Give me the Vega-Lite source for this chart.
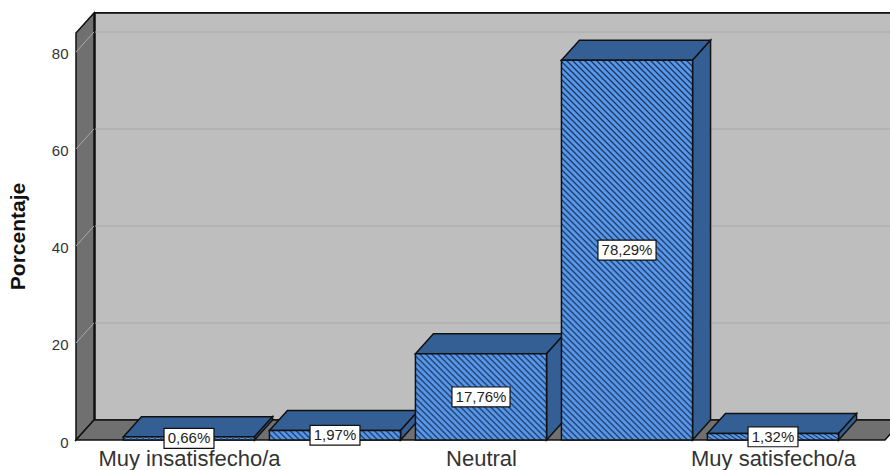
{"$schema":"https://vega.github.io/schema/vega-lite/v6.json","width":815,"height":428,"autosize":"none","padding":{"left":75,"top":12,"right":0,"bottom":30},"background":"white","config":{"view":{"stroke":null}},
"datasets":{"bars":[{"cat":1,"name":"Muy insatisfecho/a","value":0.66},{"cat":2,"name":"Insatisfecho/a","value":1.97},{"cat":3,"name":"Neutral","value":17.76},{"cat":4,"name":"Satisfecho/a","value":78.29},{"cat":5,"name":"Muy satisfecho/a","value":1.32}],"edges":[{"edge":0},{"edge":1}],"ticks":[{"v":20},{"v":40},{"v":60},{"v":80}]},
"data":{"name":"bars"},
"layer":[
{"mark":{"type":"rect","fill":"#bebebe","stroke":"#111","strokeWidth":1.5},"encoding":{"x":{"datum":0.3563,"type":"quantitative","scale":{"domain":[0.2192,5.8014],"zero":false,"nice":false},"axis":{"values":[1,3,5],"labelExpr":"{1:'Muy insatisfecho/a',3:'Neutral',5:'Muy satisfecho/a'}[datum.value]","title":null,"domain":false,"ticks":false,"grid":false,"labelFont":"Liberation Sans","labelFontSize":22,"labelColor":"#333","labelPadding":8,"labelLimit":400,"labelOverlap":false,"labelFlush":false}},"x2":{"datum":5.95},"y":{"datum":4.124,"type":"quantitative","scale":{"domain":[0,88.247],"zero":false,"nice":false},"axis":{"values":[0,20,40,60,80],"title":"Porcentaje","titleFont":"Liberation Sans","titleFontSize":21,"titleFontWeight":"bold","titleColor":"#111","titleX":-47,"titleY":224,"domain":false,"ticks":false,"grid":false,"labelFont":"Liberation Sans","labelFontSize":15,"labelColor":"#333","labelPadding":7,"labelOffset":2}},"y2":{"datum":88.04}}},
{"data":{"name":"edges"},"transform":[{"calculate":"0.226+0.1233*datum.edge","as":"xp"},{"calculate":"4.124*datum.edge","as":"y0"},{"calculate":"83.92+4.124*datum.edge","as":"y1"}],"mark":{"type":"area","orient":"vertical","fill":"#707070","fillOpacity":1,"stroke":"#111","strokeWidth":1.5},"encoding":{"x":{"field":"xp","type":"quantitative"},"y":{"field":"y1","type":"quantitative"},"y2":{"field":"y0"}}},
{"data":{"name":"edges"},"transform":[{"calculate":"0.226+0.1233*datum.edge","as":"x0"},{"calculate":"5.767+0.1233*datum.edge","as":"x1"},{"calculate":"4.124*datum.edge","as":"yp"}],"mark":{"type":"area","orient":"horizontal","fill":"#707070","fillOpacity":1,"stroke":"#111","strokeWidth":1.5},"encoding":{"y":{"field":"yp","type":"quantitative"},"x":{"field":"x0","type":"quantitative"},"x2":{"field":"x1"}}},
{"data":{"name":"ticks"},"transform":[{"calculate":"datum.v+4.124","as":"w"}],"mark":{"type":"rule","stroke":"#a9a9a9","strokeWidth":1},"encoding":{"x":{"datum":0.3563,"type":"quantitative"},"x2":{"datum":5.95},"y":{"field":"w","type":"quantitative"}}},
{"data":{"name":"ticks"},"transform":[{"calculate":"datum.v+4.124","as":"w"}],"mark":{"type":"rule","stroke":"#a9a9a9","strokeWidth":1},"encoding":{"x":{"datum":0.226,"type":"quantitative"},"x2":{"datum":0.3493},"y":{"field":"v","type":"quantitative"},"y2":{"field":"w"}}},
{"transform":[{"calculate":"[0,1]","as":"edge"},{"flatten":["edge"]},{"calculate":"datum.cat-0.449+0.1233*datum.edge","as":"x0"},{"calculate":"datum.cat+0.449+0.1233*datum.edge","as":"x1"},{"calculate":"datum.value+4.124*datum.edge","as":"yp"}],"mark":{"type":"area","orient":"horizontal","fill":"#345f95","fillOpacity":1,"stroke":"#111","strokeWidth":1.5},"encoding":{"y":{"field":"yp","type":"quantitative"},"x":{"field":"x0","type":"quantitative"},"x2":{"field":"x1"},"detail":{"field":"cat"}}},
{"transform":[{"calculate":"[0,1]","as":"edge"},{"flatten":["edge"]},{"calculate":"datum.cat+0.449+0.1233*datum.edge","as":"xp"},{"calculate":"4.124*datum.edge","as":"y0"},{"calculate":"datum.value+4.124*datum.edge","as":"y1"}],"mark":{"type":"area","orient":"vertical","fill":"#345f95","fillOpacity":1,"stroke":"#111","strokeWidth":1.5},"encoding":{"x":{"field":"xp","type":"quantitative"},"y":{"field":"y1","type":"quantitative"},"y2":{"field":"y0"},"detail":{"field":"cat"}}},
{"transform":[{"filter":"datum.value<10"},{"calculate":"datum.cat-0.449","as":"x0"},{"calculate":"datum.cat+0.449","as":"x1"}],"mark":{"type":"rect","stroke":"#111","strokeWidth":1.5,"fill":{"gradient":"linear","x1":0,"y1":1,"x2":1.1396,"y2":0.9167,"stops":[
{"offset":0,"color":"#235"},{"offset":0.012,"color":"#59e"},{"offset":0.028,"color":"#59e"},{"offset":0.04,"color":"#235"},{"offset":0.052,"color":"#59e"},{"offset":0.068,"color":"#59e"},{"offset":0.08,"color":"#235"},{"offset":0.092,"color":"#59e"},{"offset":0.108,"color":"#59e"},{"offset":0.12,"color":"#235"},{"offset":0.132,"color":"#59e"},{"offset":0.148,"color":"#59e"},{"offset":0.16,"color":"#235"},{"offset":0.172,"color":"#59e"},{"offset":0.188,"color":"#59e"},
{"offset":0.2,"color":"#235"},{"offset":0.212,"color":"#59e"},{"offset":0.228,"color":"#59e"},{"offset":0.24,"color":"#235"},{"offset":0.252,"color":"#59e"},{"offset":0.268,"color":"#59e"},{"offset":0.28,"color":"#235"},{"offset":0.292,"color":"#59e"},{"offset":0.308,"color":"#59e"},{"offset":0.32,"color":"#235"},{"offset":0.332,"color":"#59e"},{"offset":0.348,"color":"#59e"},{"offset":0.36,"color":"#235"},{"offset":0.372,"color":"#59e"},{"offset":0.388,"color":"#59e"},
{"offset":0.4,"color":"#235"},{"offset":0.412,"color":"#59e"},{"offset":0.428,"color":"#59e"},{"offset":0.44,"color":"#235"},{"offset":0.452,"color":"#59e"},{"offset":0.468,"color":"#59e"},{"offset":0.48,"color":"#235"},{"offset":0.492,"color":"#59e"},{"offset":0.508,"color":"#59e"},{"offset":0.52,"color":"#235"},{"offset":0.532,"color":"#59e"},{"offset":0.548,"color":"#59e"},{"offset":0.56,"color":"#235"},{"offset":0.572,"color":"#59e"},{"offset":0.588,"color":"#59e"},
{"offset":0.6,"color":"#235"},{"offset":0.612,"color":"#59e"},{"offset":0.628,"color":"#59e"},{"offset":0.64,"color":"#235"},{"offset":0.652,"color":"#59e"},{"offset":0.668,"color":"#59e"},{"offset":0.68,"color":"#235"},{"offset":0.692,"color":"#59e"},{"offset":0.708,"color":"#59e"},{"offset":0.72,"color":"#235"},{"offset":0.732,"color":"#59e"},{"offset":0.748,"color":"#59e"},{"offset":0.76,"color":"#235"},{"offset":0.772,"color":"#59e"},{"offset":0.788,"color":"#59e"},
{"offset":0.8,"color":"#235"},{"offset":0.812,"color":"#59e"},{"offset":0.828,"color":"#59e"},{"offset":0.84,"color":"#235"},{"offset":0.852,"color":"#59e"},{"offset":0.868,"color":"#59e"},{"offset":0.88,"color":"#235"},{"offset":0.892,"color":"#59e"},{"offset":0.908,"color":"#59e"},{"offset":0.92,"color":"#235"},{"offset":0.932,"color":"#59e"},{"offset":0.948,"color":"#59e"},{"offset":0.96,"color":"#235"}]}},"encoding":{"x":{"field":"x0","type":"quantitative"},"x2":{"field":"x1"},"y":{"field":"value","type":"quantitative"},"y2":{"datum":0}}},
{"transform":[{"filter":"datum.cat==3"},{"calculate":"datum.cat-0.449","as":"x0"},{"calculate":"datum.cat+0.449","as":"x1"}],"mark":{"type":"rect","stroke":"#111","strokeWidth":1.5,"fill":{"gradient":"linear","x1":0,"y1":1,"x2":1.2803,"y2":0.1594,"stops":[
{"offset":0,"color":"#235"},{"offset":0.0075,"color":"#59e"},{"offset":0.0175,"color":"#59e"},{"offset":0.025,"color":"#235"},{"offset":0.0325,"color":"#59e"},{"offset":0.0425,"color":"#59e"},{"offset":0.05,"color":"#235"},{"offset":0.0575,"color":"#59e"},{"offset":0.0675,"color":"#59e"},{"offset":0.075,"color":"#235"},{"offset":0.0825,"color":"#59e"},{"offset":0.0925,"color":"#59e"},
{"offset":0.1,"color":"#235"},{"offset":0.1075,"color":"#59e"},{"offset":0.1175,"color":"#59e"},{"offset":0.125,"color":"#235"},{"offset":0.1325,"color":"#59e"},{"offset":0.1425,"color":"#59e"},{"offset":0.15,"color":"#235"},{"offset":0.1575,"color":"#59e"},{"offset":0.1675,"color":"#59e"},{"offset":0.175,"color":"#235"},{"offset":0.1825,"color":"#59e"},{"offset":0.1925,"color":"#59e"},
{"offset":0.2,"color":"#235"},{"offset":0.2075,"color":"#59e"},{"offset":0.2175,"color":"#59e"},{"offset":0.225,"color":"#235"},{"offset":0.2325,"color":"#59e"},{"offset":0.2425,"color":"#59e"},{"offset":0.25,"color":"#235"},{"offset":0.2575,"color":"#59e"},{"offset":0.2675,"color":"#59e"},{"offset":0.275,"color":"#235"},{"offset":0.2825,"color":"#59e"},{"offset":0.2925,"color":"#59e"},
{"offset":0.3,"color":"#235"},{"offset":0.3075,"color":"#59e"},{"offset":0.3175,"color":"#59e"},{"offset":0.325,"color":"#235"},{"offset":0.3325,"color":"#59e"},{"offset":0.3425,"color":"#59e"},{"offset":0.35,"color":"#235"},{"offset":0.3575,"color":"#59e"},{"offset":0.3675,"color":"#59e"},{"offset":0.375,"color":"#235"},{"offset":0.3825,"color":"#59e"},{"offset":0.3925,"color":"#59e"},
{"offset":0.4,"color":"#235"},{"offset":0.4075,"color":"#59e"},{"offset":0.4175,"color":"#59e"},{"offset":0.425,"color":"#235"},{"offset":0.4325,"color":"#59e"},{"offset":0.4425,"color":"#59e"},{"offset":0.45,"color":"#235"},{"offset":0.4575,"color":"#59e"},{"offset":0.4675,"color":"#59e"},{"offset":0.475,"color":"#235"},{"offset":0.4825,"color":"#59e"},{"offset":0.4925,"color":"#59e"},
{"offset":0.5,"color":"#235"},{"offset":0.5075,"color":"#59e"},{"offset":0.5175,"color":"#59e"},{"offset":0.525,"color":"#235"},{"offset":0.5325,"color":"#59e"},{"offset":0.5425,"color":"#59e"},{"offset":0.55,"color":"#235"},{"offset":0.5575,"color":"#59e"},{"offset":0.5675,"color":"#59e"},{"offset":0.575,"color":"#235"},{"offset":0.5825,"color":"#59e"},{"offset":0.5925,"color":"#59e"},
{"offset":0.6,"color":"#235"},{"offset":0.6075,"color":"#59e"},{"offset":0.6175,"color":"#59e"},{"offset":0.625,"color":"#235"},{"offset":0.6325,"color":"#59e"},{"offset":0.6425,"color":"#59e"},{"offset":0.65,"color":"#235"},{"offset":0.6575,"color":"#59e"},{"offset":0.6675,"color":"#59e"},{"offset":0.675,"color":"#235"},{"offset":0.6825,"color":"#59e"},{"offset":0.6925,"color":"#59e"},
{"offset":0.7,"color":"#235"},{"offset":0.7075,"color":"#59e"},{"offset":0.7175,"color":"#59e"},{"offset":0.725,"color":"#235"},{"offset":0.7325,"color":"#59e"},{"offset":0.7425,"color":"#59e"},{"offset":0.75,"color":"#235"},{"offset":0.7575,"color":"#59e"},{"offset":0.7675,"color":"#59e"},{"offset":0.775,"color":"#235"},{"offset":0.7825,"color":"#59e"},{"offset":0.7925,"color":"#59e"},
{"offset":0.8,"color":"#235"},{"offset":0.8075,"color":"#59e"},{"offset":0.8175,"color":"#59e"},{"offset":0.825,"color":"#235"},{"offset":0.8325,"color":"#59e"},{"offset":0.8425,"color":"#59e"},{"offset":0.85,"color":"#235"},{"offset":0.8575,"color":"#59e"},{"offset":0.8675,"color":"#59e"},{"offset":0.875,"color":"#235"},{"offset":0.8825,"color":"#59e"},{"offset":0.8925,"color":"#59e"},
{"offset":0.9,"color":"#235"},{"offset":0.9075,"color":"#59e"},{"offset":0.9175,"color":"#59e"},{"offset":0.925,"color":"#235"}]}},"encoding":{"x":{"field":"x0","type":"quantitative"},"x2":{"field":"x1"},"y":{"field":"value","type":"quantitative"},"y2":{"datum":0}}},
{"transform":[{"filter":"datum.cat==4"},{"calculate":"datum.cat-0.449","as":"x0"},{"calculate":"datum.cat+0.449","as":"x1"}],"mark":{"type":"rect","stroke":"#111","strokeWidth":1.5,"fill":{"gradient":"linear","x1":0,"y1":1,"x2":0.4887,"y2":-0.4136,"stops":[
{"offset":0,"color":"#235"},{"offset":0.003,"color":"#59e"},{"offset":0.007,"color":"#59e"},{"offset":0.01,"color":"#235"},{"offset":0.013,"color":"#59e"},{"offset":0.017,"color":"#59e"},{"offset":0.02,"color":"#235"},{"offset":0.023,"color":"#59e"},{"offset":0.027,"color":"#59e"},{"offset":0.03,"color":"#235"},{"offset":0.033,"color":"#59e"},{"offset":0.037,"color":"#59e"},{"offset":0.04,"color":"#235"},{"offset":0.043,"color":"#59e"},{"offset":0.047,"color":"#59e"},{"offset":0.05,"color":"#235"},{"offset":0.053,"color":"#59e"},{"offset":0.057,"color":"#59e"},{"offset":0.06,"color":"#235"},{"offset":0.063,"color":"#59e"},{"offset":0.067,"color":"#59e"},{"offset":0.07,"color":"#235"},{"offset":0.073,"color":"#59e"},{"offset":0.077,"color":"#59e"},{"offset":0.08,"color":"#235"},{"offset":0.083,"color":"#59e"},{"offset":0.087,"color":"#59e"},{"offset":0.09,"color":"#235"},{"offset":0.093,"color":"#59e"},{"offset":0.097,"color":"#59e"},
{"offset":0.1,"color":"#235"},{"offset":0.103,"color":"#59e"},{"offset":0.107,"color":"#59e"},{"offset":0.11,"color":"#235"},{"offset":0.113,"color":"#59e"},{"offset":0.117,"color":"#59e"},{"offset":0.12,"color":"#235"},{"offset":0.123,"color":"#59e"},{"offset":0.127,"color":"#59e"},{"offset":0.13,"color":"#235"},{"offset":0.133,"color":"#59e"},{"offset":0.137,"color":"#59e"},{"offset":0.14,"color":"#235"},{"offset":0.143,"color":"#59e"},{"offset":0.147,"color":"#59e"},{"offset":0.15,"color":"#235"},{"offset":0.153,"color":"#59e"},{"offset":0.157,"color":"#59e"},{"offset":0.16,"color":"#235"},{"offset":0.163,"color":"#59e"},{"offset":0.167,"color":"#59e"},{"offset":0.17,"color":"#235"},{"offset":0.173,"color":"#59e"},{"offset":0.177,"color":"#59e"},{"offset":0.18,"color":"#235"},{"offset":0.183,"color":"#59e"},{"offset":0.187,"color":"#59e"},{"offset":0.19,"color":"#235"},{"offset":0.193,"color":"#59e"},{"offset":0.197,"color":"#59e"},
{"offset":0.2,"color":"#235"},{"offset":0.203,"color":"#59e"},{"offset":0.207,"color":"#59e"},{"offset":0.21,"color":"#235"},{"offset":0.213,"color":"#59e"},{"offset":0.217,"color":"#59e"},{"offset":0.22,"color":"#235"},{"offset":0.223,"color":"#59e"},{"offset":0.227,"color":"#59e"},{"offset":0.23,"color":"#235"},{"offset":0.233,"color":"#59e"},{"offset":0.237,"color":"#59e"},{"offset":0.24,"color":"#235"},{"offset":0.243,"color":"#59e"},{"offset":0.247,"color":"#59e"},{"offset":0.25,"color":"#235"},{"offset":0.253,"color":"#59e"},{"offset":0.257,"color":"#59e"},{"offset":0.26,"color":"#235"},{"offset":0.263,"color":"#59e"},{"offset":0.267,"color":"#59e"},{"offset":0.27,"color":"#235"},{"offset":0.273,"color":"#59e"},{"offset":0.277,"color":"#59e"},{"offset":0.28,"color":"#235"},{"offset":0.283,"color":"#59e"},{"offset":0.287,"color":"#59e"},{"offset":0.29,"color":"#235"},{"offset":0.293,"color":"#59e"},{"offset":0.297,"color":"#59e"},
{"offset":0.3,"color":"#235"},{"offset":0.303,"color":"#59e"},{"offset":0.307,"color":"#59e"},{"offset":0.31,"color":"#235"},{"offset":0.313,"color":"#59e"},{"offset":0.317,"color":"#59e"},{"offset":0.32,"color":"#235"},{"offset":0.323,"color":"#59e"},{"offset":0.327,"color":"#59e"},{"offset":0.33,"color":"#235"},{"offset":0.333,"color":"#59e"},{"offset":0.337,"color":"#59e"},{"offset":0.34,"color":"#235"},{"offset":0.343,"color":"#59e"},{"offset":0.347,"color":"#59e"},{"offset":0.35,"color":"#235"},{"offset":0.353,"color":"#59e"},{"offset":0.357,"color":"#59e"},{"offset":0.36,"color":"#235"},{"offset":0.363,"color":"#59e"},{"offset":0.367,"color":"#59e"},{"offset":0.37,"color":"#235"},{"offset":0.373,"color":"#59e"},{"offset":0.377,"color":"#59e"},{"offset":0.38,"color":"#235"},{"offset":0.383,"color":"#59e"},{"offset":0.387,"color":"#59e"},{"offset":0.39,"color":"#235"},{"offset":0.393,"color":"#59e"},{"offset":0.397,"color":"#59e"},
{"offset":0.4,"color":"#235"},{"offset":0.403,"color":"#59e"},{"offset":0.407,"color":"#59e"},{"offset":0.41,"color":"#235"},{"offset":0.413,"color":"#59e"},{"offset":0.417,"color":"#59e"},{"offset":0.42,"color":"#235"},{"offset":0.423,"color":"#59e"},{"offset":0.427,"color":"#59e"},{"offset":0.43,"color":"#235"},{"offset":0.433,"color":"#59e"},{"offset":0.437,"color":"#59e"},{"offset":0.44,"color":"#235"},{"offset":0.443,"color":"#59e"},{"offset":0.447,"color":"#59e"},{"offset":0.45,"color":"#235"},{"offset":0.453,"color":"#59e"},{"offset":0.457,"color":"#59e"},{"offset":0.46,"color":"#235"},{"offset":0.463,"color":"#59e"},{"offset":0.467,"color":"#59e"},{"offset":0.47,"color":"#235"},{"offset":0.473,"color":"#59e"},{"offset":0.477,"color":"#59e"},{"offset":0.48,"color":"#235"},{"offset":0.483,"color":"#59e"},{"offset":0.487,"color":"#59e"},{"offset":0.49,"color":"#235"},{"offset":0.493,"color":"#59e"},{"offset":0.497,"color":"#59e"},
{"offset":0.5,"color":"#235"},{"offset":0.503,"color":"#59e"},{"offset":0.507,"color":"#59e"},{"offset":0.51,"color":"#235"},{"offset":0.513,"color":"#59e"},{"offset":0.517,"color":"#59e"},{"offset":0.52,"color":"#235"},{"offset":0.523,"color":"#59e"},{"offset":0.527,"color":"#59e"},{"offset":0.53,"color":"#235"},{"offset":0.533,"color":"#59e"},{"offset":0.537,"color":"#59e"},{"offset":0.54,"color":"#235"},{"offset":0.543,"color":"#59e"},{"offset":0.547,"color":"#59e"},{"offset":0.55,"color":"#235"},{"offset":0.553,"color":"#59e"},{"offset":0.557,"color":"#59e"},{"offset":0.56,"color":"#235"},{"offset":0.563,"color":"#59e"},{"offset":0.567,"color":"#59e"},{"offset":0.57,"color":"#235"},{"offset":0.573,"color":"#59e"},{"offset":0.577,"color":"#59e"},{"offset":0.58,"color":"#235"},{"offset":0.583,"color":"#59e"},{"offset":0.587,"color":"#59e"},{"offset":0.59,"color":"#235"},{"offset":0.593,"color":"#59e"},{"offset":0.597,"color":"#59e"},
{"offset":0.6,"color":"#235"},{"offset":0.603,"color":"#59e"},{"offset":0.607,"color":"#59e"},{"offset":0.61,"color":"#235"},{"offset":0.613,"color":"#59e"},{"offset":0.617,"color":"#59e"},{"offset":0.62,"color":"#235"},{"offset":0.623,"color":"#59e"},{"offset":0.627,"color":"#59e"},{"offset":0.63,"color":"#235"},{"offset":0.633,"color":"#59e"},{"offset":0.637,"color":"#59e"},{"offset":0.64,"color":"#235"},{"offset":0.643,"color":"#59e"},{"offset":0.647,"color":"#59e"},{"offset":0.65,"color":"#235"},{"offset":0.653,"color":"#59e"},{"offset":0.657,"color":"#59e"},{"offset":0.66,"color":"#235"},{"offset":0.663,"color":"#59e"},{"offset":0.667,"color":"#59e"},{"offset":0.67,"color":"#235"},{"offset":0.673,"color":"#59e"},{"offset":0.677,"color":"#59e"},{"offset":0.68,"color":"#235"},{"offset":0.683,"color":"#59e"},{"offset":0.687,"color":"#59e"},{"offset":0.69,"color":"#235"},{"offset":0.693,"color":"#59e"},{"offset":0.697,"color":"#59e"},
{"offset":0.7,"color":"#235"},{"offset":0.703,"color":"#59e"},{"offset":0.707,"color":"#59e"},{"offset":0.71,"color":"#235"},{"offset":0.713,"color":"#59e"},{"offset":0.717,"color":"#59e"},{"offset":0.72,"color":"#235"},{"offset":0.723,"color":"#59e"},{"offset":0.727,"color":"#59e"},{"offset":0.73,"color":"#235"},{"offset":0.733,"color":"#59e"},{"offset":0.737,"color":"#59e"},{"offset":0.74,"color":"#235"},{"offset":0.743,"color":"#59e"},{"offset":0.747,"color":"#59e"},{"offset":0.75,"color":"#235"},{"offset":0.753,"color":"#59e"},{"offset":0.757,"color":"#59e"},{"offset":0.76,"color":"#235"},{"offset":0.763,"color":"#59e"},{"offset":0.767,"color":"#59e"},{"offset":0.77,"color":"#235"},{"offset":0.773,"color":"#59e"},{"offset":0.777,"color":"#59e"},{"offset":0.78,"color":"#235"},{"offset":0.783,"color":"#59e"},{"offset":0.787,"color":"#59e"},{"offset":0.79,"color":"#235"},{"offset":0.793,"color":"#59e"},{"offset":0.797,"color":"#59e"},
{"offset":0.8,"color":"#235"},{"offset":0.803,"color":"#59e"},{"offset":0.807,"color":"#59e"},{"offset":0.81,"color":"#235"},{"offset":0.813,"color":"#59e"},{"offset":0.817,"color":"#59e"},{"offset":0.82,"color":"#235"},{"offset":0.823,"color":"#59e"},{"offset":0.827,"color":"#59e"},{"offset":0.83,"color":"#235"},{"offset":0.833,"color":"#59e"},{"offset":0.837,"color":"#59e"},{"offset":0.84,"color":"#235"},{"offset":0.843,"color":"#59e"},{"offset":0.847,"color":"#59e"},{"offset":0.85,"color":"#235"},{"offset":0.853,"color":"#59e"},{"offset":0.857,"color":"#59e"},{"offset":0.86,"color":"#235"}]}},"encoding":{"x":{"field":"x0","type":"quantitative"},"x2":{"field":"x1"},"y":{"field":"value","type":"quantitative"},"y2":{"datum":0}}},
{"transform":[{"calculate":"datum.value/2","as":"mid"},{"calculate":"datum.mid-2.05","as":"yl"},{"calculate":"datum.mid+2.05","as":"yh"},{"calculate":"datum.cat-(datum.value>=10?0.199:0.171)","as":"xl"},{"calculate":"datum.cat+(datum.value>=10?0.199:0.171)","as":"xr"}],"mark":{"type":"rect","fill":"white","stroke":"#111","strokeWidth":1.2},"encoding":{"x":{"field":"xl","type":"quantitative"},"x2":{"field":"xr"},"y":{"field":"yl","type":"quantitative"},"y2":{"field":"yh"}}},
{"transform":[{"calculate":"datum.value/2","as":"mid"},{"calculate":"replace(format(datum.value,'.2f'),'.',',')+'%'","as":"label"}],"mark":{"type":"text","font":"Liberation Sans","fontSize":15,"fill":"#222","align":"center","baseline":"middle"},"encoding":{"x":{"field":"cat","type":"quantitative"},"y":{"field":"mid","type":"quantitative"},"text":{"field":"label"}}}
]}
